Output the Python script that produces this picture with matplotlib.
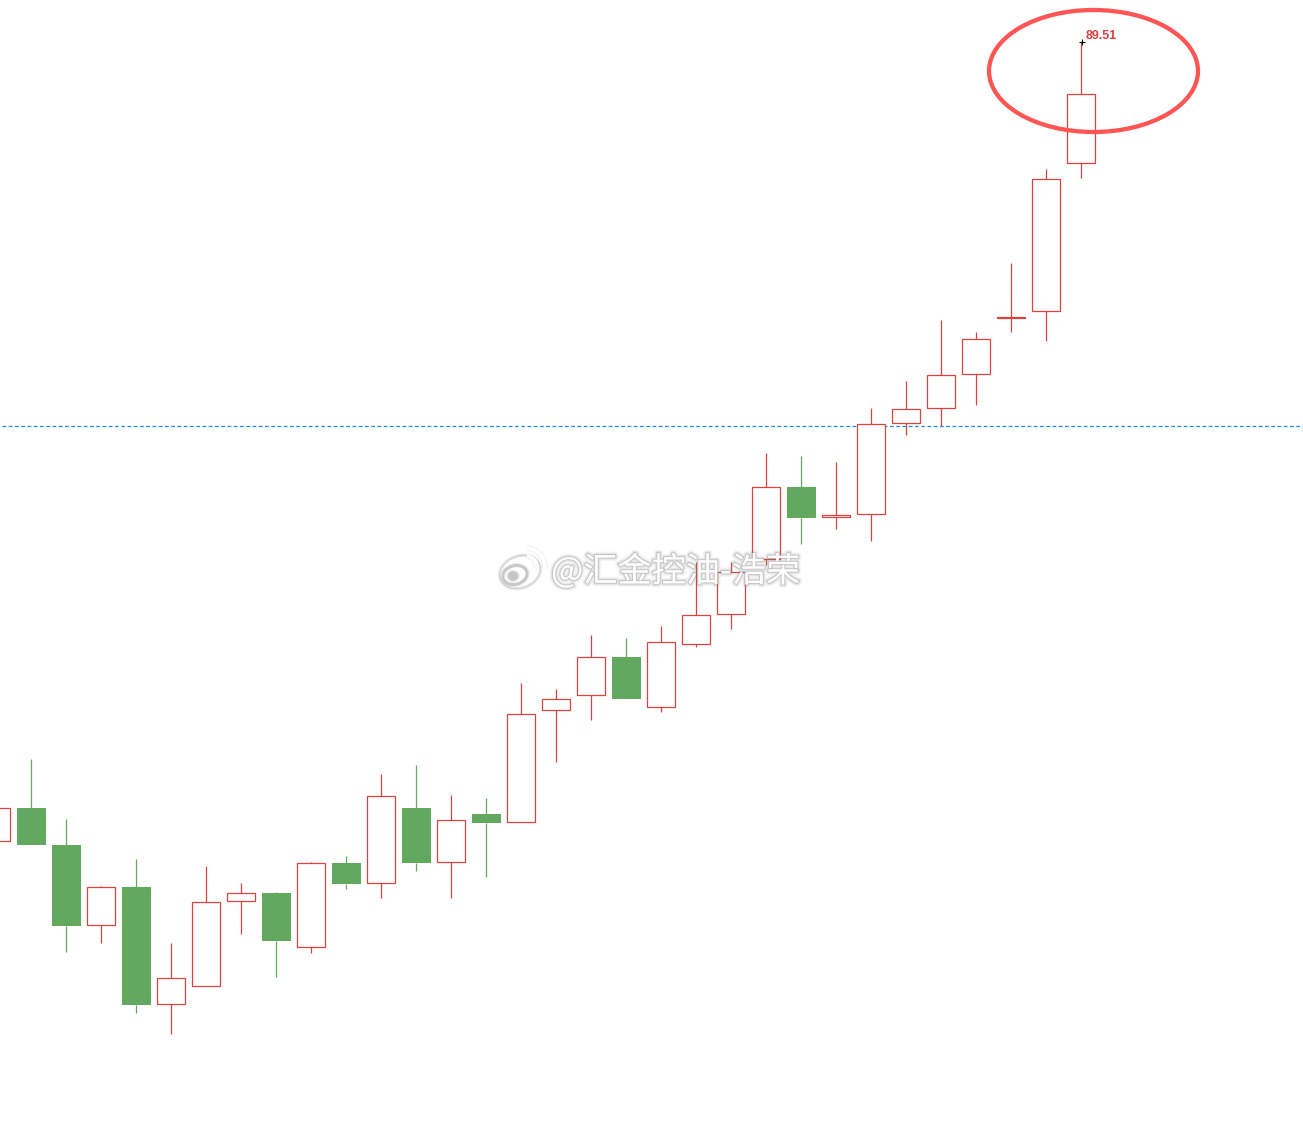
import matplotlib
matplotlib.use("Agg")
import matplotlib.pyplot as plt
import matplotlib.patheffects as pe
from matplotlib.patches import Ellipse, Arc

opens = [69.535, 70.36, 69.435, 67.435, 68.385, 65.46, 65.91, 68.035, 68.235, 66.885, 68.985,
         68.485, 70.36, 69.01, 70.21, 70.01, 72.81, 73.185, 74.135, 72.885, 74.46, 75.21,
         76.585, 78.385, 77.635, 77.71, 79.985, 80.36, 81.21, 82.61, 82.785, 86.485]
closes = [70.36, 69.435, 67.41, 68.385, 65.435, 66.11, 68.01, 68.235, 67.035, 68.985, 68.46,
          70.66, 68.985, 70.06, 69.985, 72.71, 73.085, 74.135, 73.085, 74.51, 75.185, 76.26,
          78.385, 77.61, 77.685, 79.96, 80.335, 81.185, 82.085, 82.635, 86.085, 88.21]
highs = [70.36, 71.585, 70.085, 68.41, 69.085, 66.985, 68.91, 68.485, 68.26, 69.01, 69.16,
         71.21, 71.435, 70.685, 70.61, 73.485, 73.335, 74.685, 74.61, 74.91, 76.51, 76.51,
         79.235, 79.16, 79.01, 80.36, 81.035, 82.56, 82.26, 83.985, 86.335, 89.51]
lows = [69.535, 69.435, 66.76, 66.985, 65.235, 64.71, 65.91, 67.21, 66.135, 66.735, 68.335,
        68.11, 68.785, 68.11, 68.635, 70.01, 71.51, 72.56, 73.085, 72.76, 74.385, 74.835,
        76.435, 76.96, 77.335, 77.035, 79.685, 79.91, 80.435, 82.26, 82.035, 86.11]
hline_price = 79.91
peak_label = "89.51"
watermark = "@汇金控油-浩荣"

RED = "#D9443F"
GREEN = "#62A85E"

fig = plt.figure(figsize=(13.03, 11.35), dpi=100, facecolor="white")
ax = fig.add_axes([0, 0, 1, 1])
ax.set_xlim(0.114, 37.343)
ax.set_ylim(62.185, 90.56)
ax.axis("off")

for i in range(len(opens)):
  up = closes[i] >= opens[i]
  color = RED if up else GREEN
  low_body = min(opens[i], closes[i])
  top_body = max(opens[i], closes[i])
  ax.vlines(i, top_body, highs[i], color=color, lw=0.9, zorder=2)
  ax.vlines(i, lows[i], low_body, color=color, lw=0.9, zorder=2)
  if up:
    ax.bar(i, top_body - low_body, 0.8, bottom=low_body, facecolor="white", edgecolor=color, lw=0.9, zorder=3)
  else:
    ax.bar(i + 0.01, top_body - low_body, 0.81, bottom=low_body, facecolor=color, edgecolor="none", zorder=3)

ax.plot([0.17, 37.343], [hline_price, hline_price], color="#1E8CE6", lw=0.9, ls=(0, (3, 2)), zorder=1)

last = len(opens) - 1
ax.plot(last + 0.02, highs[last], marker="+", color="black", ms=5, mew=0.8, zorder=5)
ax.annotate(peak_label, (last, highs[last]), xytext=(3.6, 0), textcoords="offset points",
            color="#DC3F3F", fontsize=9, fontweight="bold", family="Liberation Sans", va="bottom", zorder=5)

# overlay in picture pixels for the hand drawn ring and the watermark
over = fig.add_axes([0, 0, 1, 1])
over.set_xlim(0, 1303)
over.set_ylim(1135, 0)
over.axis("off")
over.patch.set_alpha(0)

over.add_patch(Ellipse((1093.5, 71), 209, 122, facecolor="none", edgecolor="#FF5555", lw=3.1, zorder=6))

shadow = [pe.withStroke(linewidth=5, foreground="#888888", alpha=0.08),
          pe.withStroke(linewidth=3, foreground="#777777", alpha=0.14),
          pe.withStroke(linewidth=1.4, foreground="#666666", alpha=0.25)]
over.text(551, 572, watermark, color="white", fontsize=24.6, va="center", ha="left",
          family=["Noto Sans CJK SC", "DejaVu Sans"], path_effects=shadow, zorder=7)

# weibo logo
logo = [pe.withStroke(linewidth=4, foreground="#777777", alpha=0.12),
        pe.withStroke(linewidth=2.4, foreground="#666666", alpha=0.2)]
for patch in [Ellipse((520, 572), 40, 30, angle=-20, facecolor="white", edgecolor="#E4E4E4", lw=0.8),
              Ellipse((515, 575), 24, 18, angle=-15, facecolor="white", edgecolor="#C8C8C8", lw=1.8),
              Ellipse((513, 576), 8, 7, facecolor="#C4C4C4", edgecolor="none"),
              Arc((526, 567), 22, 22, theta1=-85, theta2=5, color="white", lw=2.6),
              Arc((526, 567), 38, 38, theta1=-85, theta2=5, color="white", lw=2.6)]:
  patch.set_zorder(7)
  patch.set_path_effects(logo + [pe.Normal()])
  over.add_patch(patch)

fig.savefig("out.png", dpi=100, facecolor="white")
